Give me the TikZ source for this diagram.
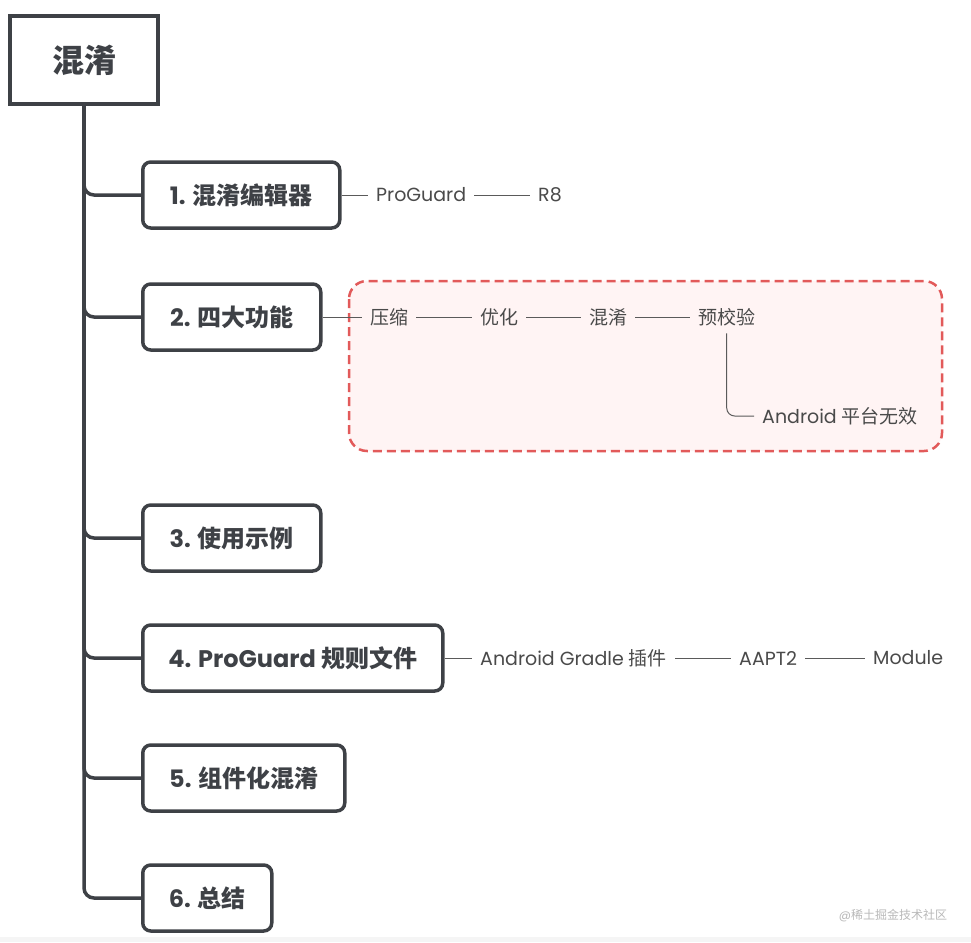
\documentclass[tikz,border=0pt]{standalone}
\usepackage{fontspec}
\setmainfont{Poppins}
\newfontfamily\cjk{Noto Sans CJK SC}
\definecolor{darkline}{HTML}{3E4146}
\definecolor{leaftext}{HTML}{4A4A4A}
\definecolor{linkgray}{HTML}{5A5A5A}
\definecolor{dashred}{HTML}{E25A5A}
\definecolor{dashfill}{HTML}{FFF4F4}
\tikzset{
    trunk/.style = {draw = darkline, line width = 3.5pt, rounded corners = 10pt},
    topic/.style = {
        draw = darkline,
        line width = 3.5pt,
        rounded corners = 8pt,
        fill = white,
        minimum height = 66pt,
        anchor = west,
        text = darkline,
        font = \bfseries\fontsize{24}{28}\selectfont
    },
    leaf/.style = {
        anchor = west,
        inner xsep = 8pt,
        text = leaftext,
        font = \fontsize{19}{22}\selectfont
    },
    link/.style = {draw = linkgray, line width = 1pt}
}
\begin{document}
\begin{tikzpicture}[x=1pt,y=1pt]
            \useasboundingbox (0,0) rectangle (971,-942);
            \fill[white] (0,0) rectangle (971,-942);
            \fill[gray!8] (0,-937) rectangle (971,-942);
            \filldraw[
                fill = dashfill,
                draw = dashred,
                line width = 2.5pt,
                dash pattern = on 9pt off 5pt,
                rounded corners = 18pt
            ]
            (349,-281) rectangle (942,-451);
            \node[
                draw = darkline,
                line width = 3.5pt,
                minimum width = 148pt,
                minimum height = 88pt,
                text = darkline,
                font = \bfseries\fontsize{32}{36}\selectfont
            ] (root) at (84,-60) {\cjk 混淆};
            \node[topic, minimum width = 197pt] (b1) at (141,-195) {1. {\cjk 混淆编辑器}};
            \node[topic, minimum width = 178pt] (b2) at (141,-317) {2. {\cjk 四大功能}};
            \node[topic, minimum width = 178pt] (b3) at (141,-538) {3. {\cjk 使用示例}};
            \node[topic, minimum width = 300pt] (b4) at (141,-658) {4. ProGuard {\cjk 规则文件}};
            \node[topic, minimum width = 202pt] (b5) at (141,-778) {5. {\cjk 组件化混淆}};
            \node[topic, minimum width = 129pt] (b6) at (141,-898) {6. {\cjk 总结}};
            \foreach \b in {b1,b2,b3,b4,b5,b6}
                \draw[trunk] (root.south) |- (\b.west);
            \node[leaf] (proguard) at (368,-195) {ProGuard};
            \node[leaf] (reight) at (530,-195) {R8};
            \draw[link] (b1.east) -- (proguard.west);
            \draw[link] (proguard.east) -- (reight.west);
            \node[leaf] (shrink) at (362,-317) {\cjk 压缩};
            \node[leaf] (optimize) at (472,-317) {\cjk 优化};
            \node[leaf] (obfuscate) at (581,-317) {\cjk 混淆};
            \node[leaf] (preverify) at (690,-317) {\cjk 预校验};
            \node[leaf] (noeffect) at (754,-416) {Android {\cjk 平台无效}};
            \draw[link] (b2.east) -- (shrink.west);
            \draw[link] (shrink.east) -- (optimize.west);
            \draw[link] (optimize.east) -- (obfuscate.west);
            \draw[link] (obfuscate.east) -- (preverify.west);
            \draw[link, rounded corners = 8pt] ([yshift=-4pt]preverify.south) |- (noeffect.west);
            \node[leaf] (agp) at (472,-658) {Android Gradle {\cjk 插件}};
            \node[leaf] (aapt) at (731,-658) {AAPT2};
            \node[leaf] (module) at (865,-658) {Module};
            \draw[link] (b4.east) -- (agp.west);
            \draw[link] (agp.east) -- (aapt.west);
            \draw[link] (aapt.east) -- (module.west);
            \node[text = gray!55, font = \fontsize{12}{14}\selectfont] (mark) at (893,-916) {@{\cjk 稀土掘金技术社区}};
        \end{tikzpicture}
\end{document}
